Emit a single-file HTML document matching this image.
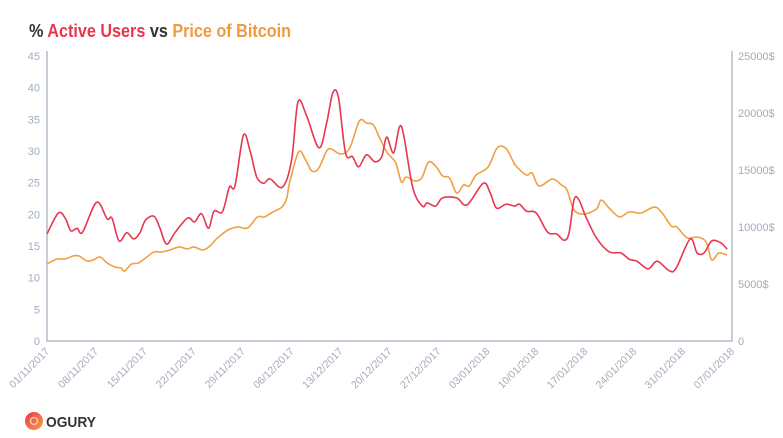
<!DOCTYPE html>
<html><head><meta charset="utf-8">
<style>
body{margin:0;background:#fff;width:783px;height:438px;overflow:hidden;font-family:"Liberation Sans",sans-serif}
svg{display:block}
</style></head>
<body>
<svg id="chart" width="783" height="438" xmlns="http://www.w3.org/2000/svg">
<text x="29" y="37" font-size="18" font-weight="bold" font-family="Liberation Sans, sans-serif" textLength="262" lengthAdjust="spacingAndGlyphs"><tspan fill="#333">%</tspan><tspan fill="#e8364e"> Active Users</tspan><tspan fill="#333"> vs</tspan><tspan fill="#f09a3e"> Price of Bitcoin</tspan></text>
<g id="axes"></g>
<g id="series"></g>
<g>
<defs><linearGradient id="lg" x1="0" y1="0" x2="1" y2="1"><stop offset="0" stop-color="#e8364e"/><stop offset="1" stop-color="#f5a040"/></linearGradient></defs>
<circle cx="34" cy="421" r="9" fill="url(#lg)"/>
<circle cx="34" cy="421" r="3.5" fill="none" stroke="#fff" stroke-opacity="0.6" stroke-width="1.5"/>
<text x="46" y="427" font-size="15" font-weight="bold" fill="#333" font-family="Liberation Sans, sans-serif" textLength="50" lengthAdjust="spacingAndGlyphs">OGURY</text>
</g>
</svg>
<script>
const xTickLabels=["01/11/2017","08/11/2017","15/11/2017","22/11/2017","29/11/2017","06/12/2017","13/12/2017","20/12/2017","27/12/2017","03/01/2018","10/01/2018","17/01/2018","24/01/2018","31/01/2018","07/01/2018"];
const leftTicks=[0,5,10,15,20,25,30,35,40,45];
const rightTicks=[0,5000,10000,15000,20000,25000];
const usersDays=[0,1.6,2.6,3.4,4.3,5.1,7.1,8.6,9.3,10.3,11.4,12.4,13.3,14.1,15.3,16.1,17.1,18.3,20.1,21.1,22.1,23.1,23.9,25.1,26.1,26.9,28.1,29.1,30,31,31.9,33.7,35,35.9,37.1,38.9,40,40.9,41.7,42.7,43.7,44.6,45.7,46.9,47.9,48.6,49.6,50.7,52.3,53.7,54.4,55.6,56.6,58.6,60.1,62.4,63.4,64.3,65.7,66.9,67.6,68.6,70,71.6,72.9,74,74.7,75.4,76.1,77.1,78.6,80.4,82.1,83.3,84.4,86,87.3,89,90,92,93,94,95.1,96.4,97.3];
const usersValues=[16.9,20.2,19.4,17.4,17.8,17.2,21.9,19.3,19.4,15.8,17.1,16.1,17.1,19.1,19.7,18.0,15.3,17.1,19.4,18.8,20.1,17.8,20.5,20.4,24.3,24.5,32.5,29.8,25.9,24.9,25.6,24.3,28.6,37.7,35.7,30.5,34.4,39.2,38.4,29.7,29.1,27.5,29.4,28.3,29.1,32.2,29.7,33.9,24.3,21.3,21.8,21.3,22.6,22.6,21.5,24.9,23.4,21.0,21.6,21.3,21.6,20.5,20.2,17.2,16.9,15.9,17.1,22.3,22.3,19.6,16.3,14.1,13.9,12.9,12.6,11.4,12.6,11.1,11.5,16.1,13.9,13.9,15.8,15.5,14.5];
const priceDays=[0,1.4,2.6,3.7,4.6,5.7,6.6,7.6,8.6,9.7,10.6,11.1,12.1,13.1,14.3,15.3,16.4,17.6,18.9,20.1,21,22.3,23.3,24.4,25.9,27.3,28.7,30.1,31.1,32.3,33.6,34.3,34.7,36,37,37.9,38.9,40,40.7,42,43.3,44.7,45.7,46.7,47.6,48.6,49.9,50.7,51.4,52.6,53.6,54.6,55.7,56.6,57.6,58.6,59.6,60.4,61.4,63.1,64.4,65.6,66.6,67.1,68.6,69.4,70.4,72.3,73.6,74.4,75.4,76.9,78.6,79.3,80.4,81.9,83.3,85,86.9,88,89.3,90.1,91.6,93,94.3,95.1,96.1,97.3];
const priceValues=[6750,7190,7190,7460,7460,7020,7100,7370,6840,6490,6400,6140,6750,6840,7370,7810,7810,7980,8250,8070,8250,7980,8330,9040,9740,10000,9910,10880,10880,11320,11750,12540,13860,16580,15880,14910,15180,16670,16840,16400,16930,19300,19120,18950,17810,16580,15610,13950,14390,14040,14300,15700,15260,14470,14300,12980,13680,13600,14560,15260,16930,16930,15880,15350,14560,14740,13600,14210,13680,13250,11490,11140,11580,12370,11670,10880,11320,11230,11750,11230,10090,10000,9040,9120,8680,7110,7720,7540];

const X0=47,X1=732,Y0=341,Y1=56,DAYS=98;
const xScale=d=>X0+(X1-X0)*d/DAYS;
const yL=v=>Y0-(Y0-Y1)*v/45;
const yR=v=>Y0-(Y0-Y1)*v/25000;
const NS="http://www.w3.org/2000/svg";
const axes=document.getElementById('axes'),series=document.getElementById('series');
function mk(tag,attrs,parent){const e=document.createElementNS(NS,tag);for(const k in attrs)e.setAttribute(k,attrs[k]);parent.appendChild(e);return e;}
let e;
e=mk('path',{d:`M${X0},${Y1-5}V${Y0}H${X1}V${Y1-5}`,fill:'none',stroke:'#b4bccb','stroke-width':1.5},axes);


leftTicks.forEach(v=>{
 const t=mk('text',{x:40,y:yL(v)+4,'text-anchor':'end','font-size':11,fill:'#a3abba'},axes);t.textContent=v;
 
 
});
rightTicks.forEach(v=>{
 const t=mk('text',{x:738,y:yR(v)+4,'font-size':11,fill:'#a3abba'},axes);t.textContent=v===0?'0':v+'$';
 
 
});
xTickLabels.forEach((s,i)=>{
 const x=xScale(i*7);
 const t=mk('text',{x:x+3,y:352,'text-anchor':'end','font-size':10.5,fill:'#a3abba',transform:`rotate(-45 ${x+3} 352)`},axes);t.textContent=s;
 
 
});
function smooth(pts){
 let d=`M${pts[0][0]},${pts[0][1]}`;
 for(let i=0;i<pts.length-1;i++){
  const p0=pts[Math.max(0,i-1)],p1=pts[i],p2=pts[i+1],p3=pts[Math.min(pts.length-1,i+2)];
  const c1=[p1[0]+(p2[0]-p0[0])/6,p1[1]+(p2[1]-p0[1])/6],c2=[p2[0]-(p3[0]-p1[0])/6,p2[1]-(p3[1]-p1[1])/6];
  d+=`C${c1[0].toFixed(1)},${c1[1].toFixed(1)} ${c2[0].toFixed(1)},${c2[1].toFixed(1)} ${p2[0].toFixed(1)},${p2[1].toFixed(1)}`;
 }
 return d;
}
e=mk('path',{d:smooth(priceDays.map((d,i)=>[xScale(d),yR(priceValues[i])])),fill:'none',stroke:'#f0a040','stroke-width':1.6},series);


e=mk('path',{d:smooth(usersDays.map((d,i)=>[xScale(d),yL(usersValues[i])])),fill:'none',stroke:'#e8364e','stroke-width':1.6},series);


</script>
</body></html>
